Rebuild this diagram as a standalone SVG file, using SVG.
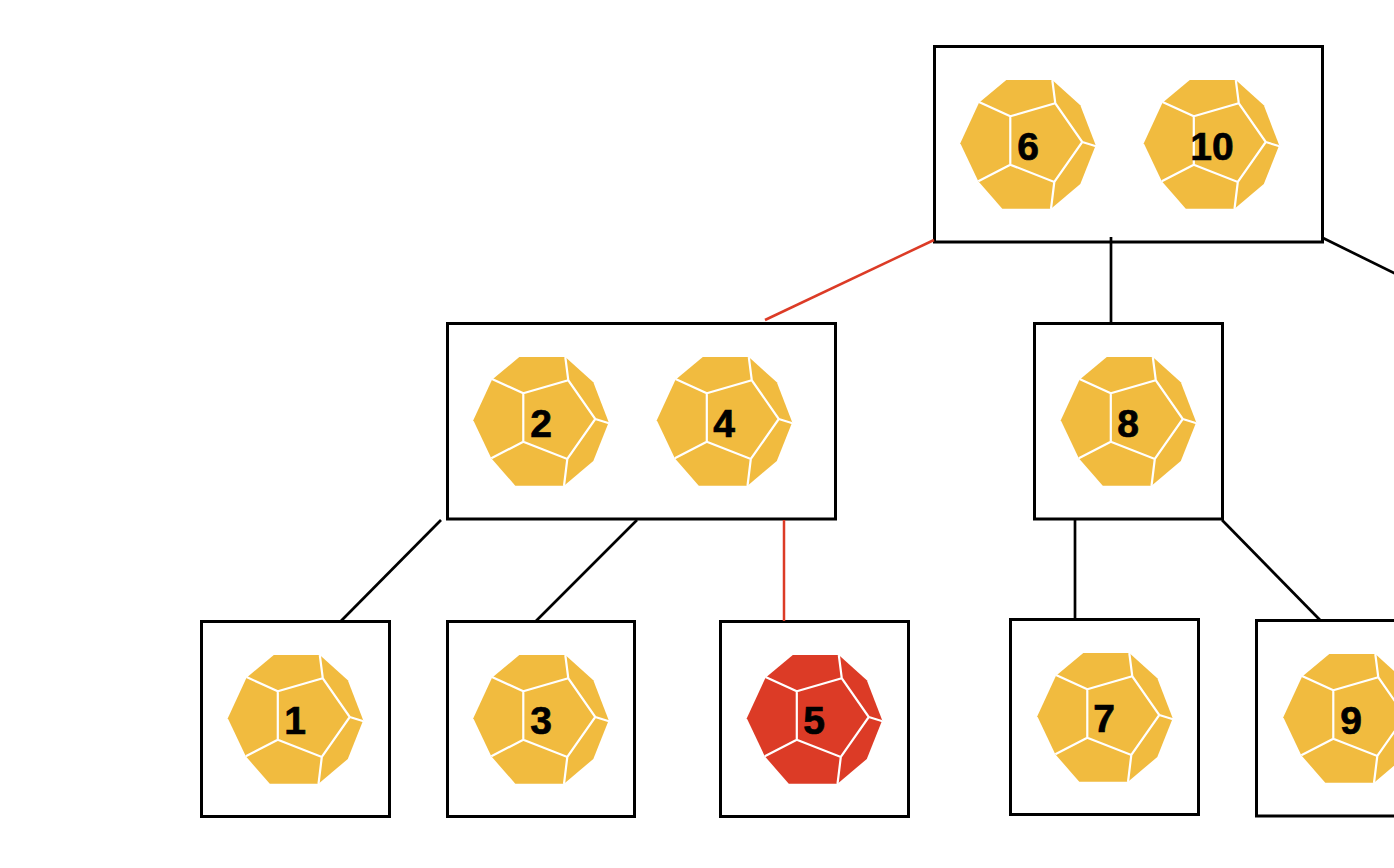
<svg xmlns="http://www.w3.org/2000/svg" width="1394" height="868" viewBox="0 0 1394 868">
<style>
.box{fill:#fff;stroke:#000;stroke-width:3}
.c{fill:none;stroke:#000;stroke-width:2.7}
.r{stroke:#DC3B26;stroke-width:2.5}
.y{fill:#F1BB3F}
.d{fill:#DC3B26}
.n{font-family:"Liberation Sans",Arial,sans-serif;font-weight:700;font-size:39px;text-anchor:middle;fill:#000;stroke:#000;stroke-width:.7}
</style>
<defs>
<g id="die">
<path d="M46.300 0H92.300L120.300 25.300L135.700 65.300L120.300 104L91 128.700H42.300L18.300 101.300L0.300 63.300L19 22.700Z"/>
<path d="M50.300 36.300L95.300 23.300L122.300 62L94.300 102L50.300 84.700ZM50.300 36.300L19 22M95.300 23.300L92.300 0M122.300 62L136 66.300M94.300 102L91 129M50.300 84.700L18.300 101.300" fill="none" stroke="#fff" stroke-width="2.200"/>
</g>
</defs>
<g id="node-6-10">
<rect class="box" x="934.500" y="46.500" width="388" height="195.500"/>
<use href="#die" class="y" x="960" y="80"/><text class="n" x="1028" y="160">6</text>
<use href="#die" class="y" x="1143.500" y="80"/><text class="n" x="1212" y="160">10</text>
</g>
<g id="node-2-4">
<rect class="box" x="447.500" y="323.500" width="388" height="195.500"/>
<use href="#die" class="y" x="473" y="357"/><text class="n" x="541" y="437">2</text>
<use href="#die" class="y" x="656.500" y="357"/><text class="n" x="724" y="437">4</text>
</g>
<g id="node-8">
<rect class="box" x="1034.500" y="323.500" width="188" height="195.500"/>
<use href="#die" class="y" x="1060.500" y="357"/><text class="n" x="1128" y="437">8</text>
</g>
<g id="node-1">
<rect class="box" x="201.500" y="621.500" width="188" height="195"/>
<use href="#die" class="y" x="227.500" y="655"/><text class="n" x="295" y="734">1</text>
</g>
<g id="node-3">
<rect class="box" x="447.500" y="621.500" width="187" height="195"/>
<use href="#die" class="y" x="473" y="655"/><text class="n" x="541" y="734">3</text>
</g>
<g id="node-5">
<rect class="box" x="720.500" y="621.500" width="188" height="195"/>
<use href="#die" class="d" x="746.500" y="655"/><text class="n" x="814" y="734">5</text>
</g>
<g id="node-7">
<rect class="box" x="1010.500" y="619.500" width="188" height="195"/>
<use href="#die" class="y" x="1037" y="653"/><text class="n" x="1104" y="732">7</text>
</g>
<g id="node-9">
<rect class="box" x="1256.500" y="620.500" width="188" height="195.500"/>
<use href="#die" class="y" x="1283" y="654"/><text class="n" x="1351" y="734">9</text>
</g>
<g id="connectors">
<path class="c r" d="M934 240L765 320"/>
<path class="c" d="M1111 237V323"/>
<path class="c" d="M1323 238L1400 276"/>
<path class="c" d="M441 520L341 621"/>
<path class="c" d="M637 520L536 621"/>
<path class="c r" d="M784 520V621"/>
<path class="c" d="M1075 520V619"/>
<path class="c" d="M1222 520L1320 620"/>
</g>
</svg>
